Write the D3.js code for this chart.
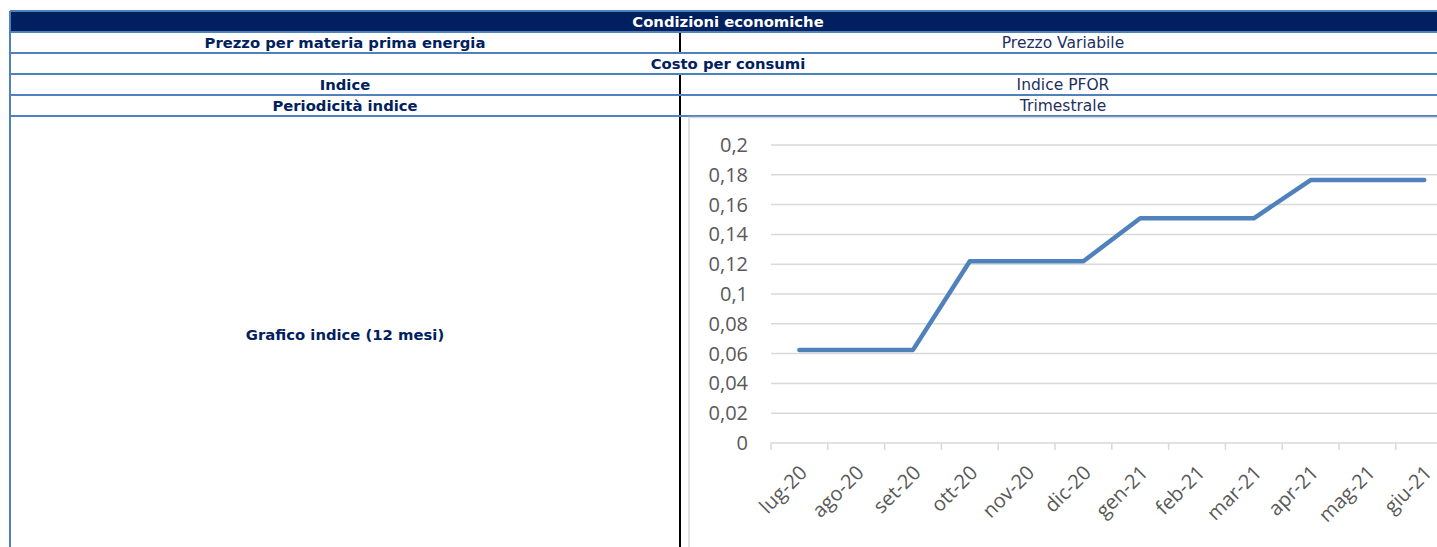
<!DOCTYPE html>
<html><head><meta charset="utf-8">
<script src="https://cdn.jsdelivr.net/npm/d3@7"></script>
<style>html,body{margin:0;padding:0;background:#fff;overflow:hidden}svg{display:block}</style>
</head><body><svg id="c" width="1437" height="547"></svg>
<script>
const months = ["lug-20","ago-20","set-20","ott-20","nov-20","dic-20","gen-21","feb-21","mar-21","apr-21","mag-21","giu-21"];
const values = [0.0625,0.0625,0.0625,0.122,0.122,0.122,0.1508,0.1508,0.1508,0.1765,0.1765,0.1765];
const yTicks = [0,0.02,0.04,0.06,0.08,0.1,0.12,0.14,0.16,0.18,0.2];
const tableTitle = "Condizioni economiche";
const rowLabels = ["Prezzo per materia prima energia","Costo per consumi","Indice","Periodicità indice","Grafico indice (12 mesi)"];
const rowValues = ["Prezzo Variabile",null,"Indice PFOR","Trimestrale",null];

const svg = d3.select("#c");
const navy = "#002060", blue = "#4f81bd";
const tL = 10, tR = 1446, mid = 680;
const rowY = [11,32,53,74,95,116,560];
const tfont = "'DejaVu Sans', sans-serif";

svg.append("rect").attr("x",tL).attr("y",rowY[0]).attr("width",tR-tL).attr("height",rowY[1]-rowY[0]).attr("fill",navy);
svg.append("text").attr("x",(tL+tR)/2).attr("y",(rowY[0]+rowY[1])/2+5.5).attr("text-anchor","middle")
  .attr("font-family",tfont).attr("font-weight","bold").attr("font-size",14.8).attr("fill","#fff").text(tableTitle);

rowLabels.forEach((lab,i)=>{
  const y0 = rowY[i+1], y1 = rowY[i+2];
  const cy = i===4 ? 340 : (y0+y1)/2+5.5;
  const span = rowValues[i]===null && i===1;
  svg.append("text").attr("x", span ? (tL+tR)/2 : (tL+mid)/2).attr("y",cy).attr("text-anchor","middle")
    .attr("font-family",tfont).attr("font-weight","bold").attr("font-size",14.8).attr("fill",navy).text(lab);
  if(rowValues[i]){
    svg.append("text").attr("x",(mid+tR)/2).attr("y",cy).attr("text-anchor","middle")
      .attr("font-family",tfont).attr("font-size",15.5).attr("fill","#1f2f5f").text(rowValues[i]);
  }
  if(!span){
    svg.append("line").attr("x1",mid).attr("x2",mid).attr("y1",y0).attr("y2",y1).attr("stroke","#000").attr("stroke-width",2);
  }
});
rowY.slice(0,6).forEach(y=>{
  svg.append("line").attr("x1",tL).attr("x2",tR).attr("y1",y).attr("y2",y).attr("stroke",blue).attr("stroke-width",2);
});
svg.append("line").attr("x1",tL).attr("x2",tL).attr("y1",rowY[0]).attr("y2",560).attr("stroke",blue).attr("stroke-width",2);

svg.append("rect").attr("x",689).attr("y",117.5).attr("width",800).attr("height",500).attr("fill","#fff").attr("stroke","#d9d9d9").attr("stroke-width",1.5);

const bw = 56.8;
const x = d3.scaleBand().domain(months).range([771, 771+bw*months.length]);
const y = d3.scaleLinear().domain([0,0.2]).range([443,145]);
const loc = d3.formatLocale({decimal:",",thousands:".",grouping:[3],currency:["€",""]});
const fmt = loc.format("~g");

const g = svg.append("g");
g.selectAll(".grid").data(yTicks).join("line")
  .attr("x1",x.range()[0]).attr("x2",x.range()[1]).attr("y1",d=>y(d)).attr("y2",d=>y(d))
  .attr("stroke","#d9d9d9").attr("stroke-width",1.5);
g.selectAll(".yl").data(yTicks).join("text")
  .attr("x",748).attr("y",d=>y(d)+7).attr("text-anchor","end")
  .attr("font-family","'Open Sans', sans-serif").attr("font-size",20).attr("fill","#595959").text(d=>fmt(d));
const bounds = months.map(m=>x(m)).concat([x.range()[1]]);
g.selectAll(".xt").data(bounds).join("line")
  .attr("x1",d=>d).attr("x2",d=>d).attr("y1",443).attr("y2",450)
  .attr("stroke","#d9d9d9").attr("stroke-width",1.5);
g.selectAll(".xl").data(months).join("text")
  .attr("transform",d=>`translate(${x(d)+x.bandwidth()/2+9},${474}) rotate(-45)`)
  .attr("text-anchor","end")
  .attr("font-family","'Open Sans', sans-serif").attr("font-size",20).attr("fill","#595959").text(d=>d);
const line = d3.line().x((d,i)=>x(months[i])+x.bandwidth()/2).y(d=>y(d));
g.append("path").datum(values).attr("d",line).attr("fill","none").attr("stroke","#4f81bd")
  .attr("stroke-width",4.5).attr("stroke-linecap","round").attr("stroke-linejoin","round");
</script></body></html>
